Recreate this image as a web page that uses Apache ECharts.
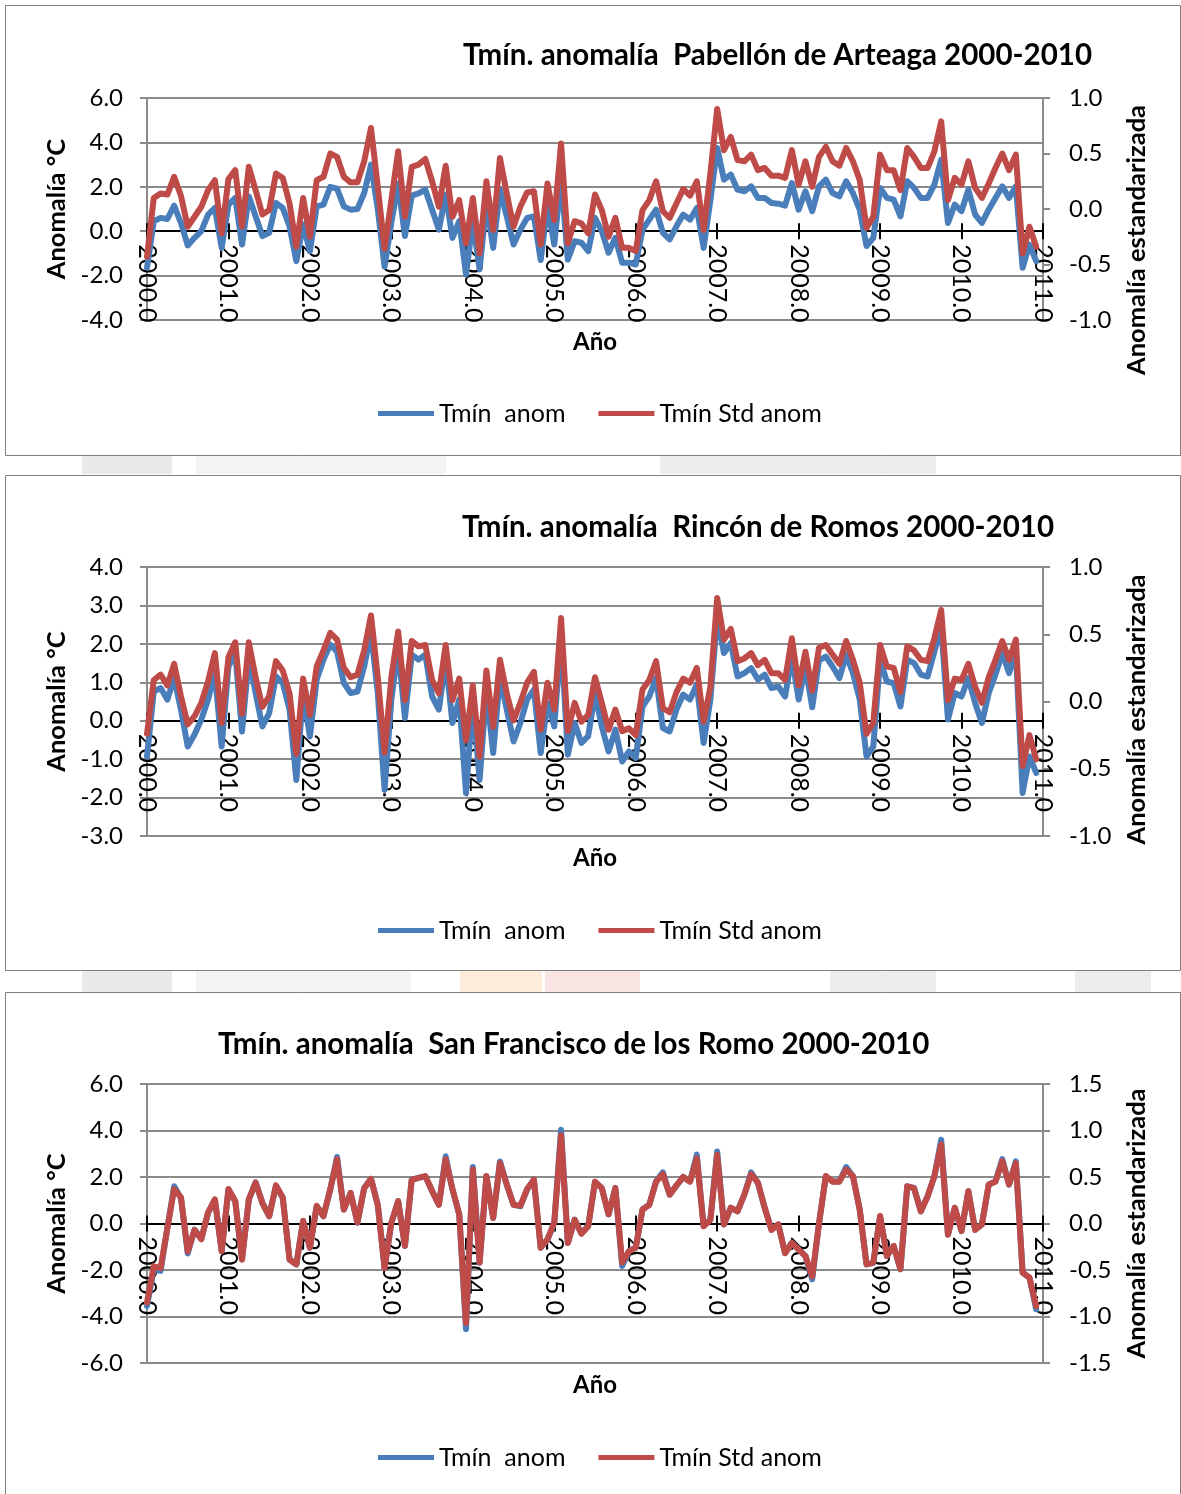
<!DOCTYPE html>
<html>
<head>
<meta charset="utf-8">
<script src="https://cdn.jsdelivr.net/npm/echarts@6/dist/echarts.min.js"></script>
<style>
  html, body { margin: 0; padding: 0; background: #fff; }
  #chart { width: 1181px; height: 1494px; }
</style>
</head>
<body>
<div id="chart"></div>
<script>
// Monthly minimum-temperature anomalies, Jan 2000 – Dec 2010 (132 months)
const YEAR_START = 2000;
const YEAR_END = 2011;
const SERIES_ANOM = 'Tmín  anom';
const SERIES_STD = 'Tmín Std anom';

const titles = [
  'Tmín. anomalía  Pabellón de Arteaga 2000-2010',
  'Tmín. anomalía  Rincón de Romos 2000-2010',
  'Tmín. anomalía  San Francisco de los Romo 2000-2010'
];

// Pabellón de Arteaga
const paAnom = [
  -1.65, 0.45, 0.6, 0.55, 1.15, 0.37, -0.64, -0.3, 0.0, 0.75, 1.05, -0.75,
  1.2, 1.5, -0.6, 1.57, 0.67, -0.22, -0.07, 1.27, 1.05, 0.22, -1.35, 0.3,
  -0.9, 1.12, 1.2, 2.0, 1.92, 1.12, 0.97, 1.0, 1.72, 3.0, 1.0, -1.6,
  0.4, 2.15, -0.22, 1.6, 1.7, 1.87, 0.97, 0.07, 1.65, -0.3, 0.45, -1.95,
  0.45, -1.72, 1.27, -0.75, 1.87, 0.67, -0.6, 0.07, 0.6, 0.67, -1.3, 1.12,
  -0.6, 2.4, -1.27, -0.45, -0.52, -0.9, 0.6, 0.0, -0.97, -0.3, -1.42, -1.42,
  -1.5, 0.07, 0.52, 0.97, -0.07, -0.37, 0.22, 0.75, 0.52, 1.05, -0.75, 1.4,
  3.75, 2.32, 2.55, 1.87, 1.8, 2.02, 1.5, 1.5, 1.27, 1.24, 1.15, 2.17,
  0.97, 1.8, 0.9, 2.02, 2.32, 1.72, 1.57, 2.25, 1.72, 0.97, -0.67, -0.3,
  1.95, 1.5, 1.42, 0.67, 2.25, 1.95, 1.5, 1.5, 2.1, 3.22, 0.37, 1.2,
  0.9, 1.87, 0.75, 0.37, 0.97, 1.5, 2.02, 1.5, 2.02, -1.65, -0.6, -1.35
];
const paStd = [
  -0.43, 0.1, 0.14, 0.13, 0.29, 0.12, -0.16, -0.07, 0.02, 0.17, 0.26, -0.22,
  0.27, 0.35, -0.16, 0.38, 0.17, -0.05, -0.01, 0.32, 0.28, 0.05, -0.34, 0.1,
  -0.25, 0.26, 0.29, 0.5, 0.47, 0.29, 0.24, 0.24, 0.43, 0.73, 0.2, -0.36,
  0.08, 0.52, -0.07, 0.38, 0.4, 0.45, 0.25, 0.02, 0.39, -0.07, 0.08, -0.31,
  0.1, -0.4, 0.25, -0.19, 0.46, 0.14, -0.16, 0.02, 0.15, 0.16, -0.32, 0.23,
  -0.1, 0.59, -0.31, -0.11, -0.13, -0.22, 0.13, -0.01, -0.25, -0.08, -0.35, -0.35,
  -0.38, -0.01, 0.08, 0.25, -0.02, -0.08, 0.05, 0.18, 0.12, 0.25, -0.19, 0.32,
  0.9, 0.53, 0.65, 0.44, 0.43, 0.49, 0.35, 0.37, 0.3, 0.3, 0.28, 0.53,
  0.22, 0.43, 0.2, 0.47, 0.56, 0.43, 0.39, 0.55, 0.43, 0.26, -0.17, -0.07,
  0.49, 0.35, 0.35, 0.17, 0.55, 0.47, 0.37, 0.37, 0.52, 0.79, 0.08, 0.28,
  0.22, 0.43, 0.19, 0.1, 0.23, 0.37, 0.5, 0.35, 0.49, -0.4, -0.16, -0.34
];

// Rincón de Romos
const rrAnom = [
  -0.93, 0.76, 0.85, 0.55, 1.11, 0.29, -0.67, -0.36, 0.03, 0.55, 1.24, -0.67,
  1.41, 1.76, -0.28, 1.63, 0.72, -0.15, 0.2, 1.15, 0.98, 0.29, -1.54, 0.72,
  -0.41, 1.07, 1.59, 1.98, 1.8, 0.98, 0.72, 0.76, 1.41, 2.3, 0.72, -1.8,
  0.55, 1.89, 0.07, 1.72, 1.59, 1.72, 0.63, 0.29, 1.59, -0.06, 0.55, -1.88,
  0.55, -1.54, 0.81, -0.84, 1.15, 0.29, -0.54, -0.06, 0.55, 0.81, -0.84, 0.46,
  -0.15, 2.19, -0.88, -0.06, -0.58, -0.4, 0.7, -0.15, -0.8, -0.23, -1.06, -0.8,
  -0.97, 0.37, 0.63, 1.11, -0.19, -0.28, 0.29, 0.68, 0.55, 0.94, -0.58, 0.55,
  2.71, 1.76, 2.02, 1.15, 1.24, 1.37, 1.07, 1.2, 0.85, 0.89, 0.63, 1.67,
  0.55, 1.41, 0.35, 1.57, 1.67, 1.41, 1.11, 1.72, 1.24, 0.55, -0.93, -0.67,
  1.59, 1.02, 0.98, 0.37, 1.59, 1.5, 1.2, 1.15, 1.8, 2.45, 0.03, 0.72,
  0.63, 1.11, 0.46, -0.06, 0.72, 1.2, 1.76, 1.24, 1.8, -1.88, -0.93, -1.36
];
const rrStd = [
  -0.24, 0.16, 0.2, 0.12, 0.28, 0.04, -0.17, -0.11, -0.01, 0.15, 0.36, -0.16,
  0.33, 0.44, -0.09, 0.44, 0.18, -0.04, 0.04, 0.3, 0.23, 0.06, -0.39, 0.17,
  -0.1, 0.26, 0.38, 0.51, 0.46, 0.25, 0.18, 0.2, 0.38, 0.64, 0.18, -0.38,
  0.18, 0.52, 0.01, 0.45, 0.41, 0.42, 0.16, 0.06, 0.42, 0.01, 0.17, -0.29,
  0.12, -0.41, 0.23, -0.19, 0.31, 0.06, -0.14, -0.01, 0.14, 0.22, -0.21, 0.14,
  -0.06, 0.62, -0.22, -0.01, -0.15, -0.1, 0.18, -0.01, -0.21, -0.06, -0.22, -0.2,
  -0.25, 0.09, 0.16, 0.3, -0.05, -0.08, 0.07, 0.17, 0.14, 0.25, -0.15, 0.11,
  0.77, 0.46, 0.54, 0.3, 0.32, 0.36, 0.27, 0.31, 0.21, 0.21, 0.16, 0.47,
  0.12, 0.37, 0.08, 0.4, 0.42, 0.35, 0.28, 0.45, 0.31, 0.14, -0.24, -0.16,
  0.42, 0.26, 0.25, 0.07, 0.41, 0.38, 0.31, 0.3, 0.47, 0.68, 0.01, 0.17,
  0.16, 0.28, 0.11, -0.01, 0.18, 0.31, 0.45, 0.31, 0.46, -0.48, -0.25, -0.43
];

// San Francisco de los Romo
const sfAnom = [
  -3.55, -1.97, -2.04, -0.2, 1.6, 1.1, -1.29, -0.26, -0.66, 0.46, 1.03, -1.19,
  1.46, 0.96, -1.54, 1.03, 1.77, 0.89, 0.31, 1.63, 1.1, -1.54, -1.76, 0.1,
  -1.04, 0.74, 0.31, 1.46, 2.86, 0.6, 1.31, 0.03, 1.53, 1.92, 0.81, -1.9,
  0.03, 0.96, -0.97, 1.89, 1.96, 2.03, 1.39, 0.81, 2.89, 1.46, 0.39, -4.54,
  2.43, -1.69, 2.03, 0.24, 2.67, 1.67, 0.81, 0.74, 1.46, 1.89, -1.04, -0.69,
  0.03, 4.03, -0.83, 0.17, -0.43, -0.1, 1.78, 1.53, 0.39, 1.53, -1.83, -1.19,
  -1.04, 0.6, 0.81, 1.81, 2.2, 1.24, 1.63, 2.0, 1.81, 2.96, -0.11, 0.17,
  3.1, -0.04, 0.67, 0.53, 1.24, 2.2, 1.74, 0.67, -0.26, -0.04, -1.26, -0.83,
  -1.11, -1.4, -2.4, 0.0, 2.03, 1.81, 1.81, 2.43, 2.03, 0.6, -1.76, -1.69,
  0.31, -1.4, -0.97, -1.97, 1.6, 1.53, 0.53, 1.17, 2.03, 3.6, -0.47, 0.67,
  -0.33, 1.39, -0.26, -0.04, 1.67, 1.81, 2.77, 1.67, 2.67, -2.11, -2.33, -3.69
];
const sfStd = [
  -0.85, -0.46, -0.48, -0.05, 0.37, 0.28, -0.3, -0.07, -0.17, 0.12, 0.26, -0.3,
  0.37, 0.24, -0.39, 0.26, 0.44, 0.22, 0.08, 0.41, 0.28, -0.39, -0.44, 0.03,
  -0.26, 0.19, 0.08, 0.37, 0.69, 0.15, 0.33, 0.01, 0.38, 0.48, 0.2, -0.48,
  0.01, 0.24, -0.24, 0.47, 0.49, 0.51, 0.35, 0.2, 0.69, 0.37, 0.1, -1.07,
  0.58, -0.42, 0.51, 0.06, 0.65, 0.42, 0.2, 0.19, 0.37, 0.47, -0.26, -0.17,
  0.01, 0.95, -0.21, 0.04, -0.11, -0.03, 0.45, 0.38, 0.1, 0.38, -0.42, -0.3,
  -0.26, 0.15, 0.2, 0.45, 0.53, 0.31, 0.41, 0.5, 0.45, 0.7, -0.03, 0.04,
  0.74, -0.01, 0.17, 0.13, 0.31, 0.53, 0.44, 0.17, -0.07, -0.01, -0.32, -0.21,
  -0.28, -0.35, -0.57, 0.0, 0.51, 0.45, 0.45, 0.58, 0.51, 0.15, -0.44, -0.42,
  0.08, -0.35, -0.24, -0.49, 0.4, 0.38, 0.13, 0.29, 0.51, 0.85, -0.12, 0.17,
  -0.08, 0.35, -0.07, -0.01, 0.42, 0.45, 0.67, 0.42, 0.65, -0.53, -0.58, -0.89
];

// Axis ranges for each panel: [min, max, interval] for the °C axis and the standardised axis
const leftAxes = [[-4, 6, 2], [-3, 4, 1], [-6, 6, 2]];
const rightAxes = [[-1, 1, 0.5], [-1, 1, 0.5], [-1.5, 1.5, 0.5]];
const anomSets = [paAnom, rrAnom, sfAnom];
const stdSets = [paStd, rrStd, sfStd];

const FONT = 'Lato';
const GRID_COLOR = '#8a8a8a';
const BLUE = '#4A7EBB';
const RED = '#BE4B48';
const LINE_W = 6;

// layout of the three panels
const panels = [
  { top: 98,  height: 222, titleTop: 40,   titleRight: 89,  titleLeft: null, legendTop: 396,  nameGapX: 99,  rightShift: 62 },
  { top: 567, height: 269, titleTop: 512,  titleRight: 127, titleLeft: null, legendTop: 913,  nameGapX: 126, rightShift: 16 },
  { top: 1084, height: 279, titleTop: 1029, titleRight: null, titleLeft: 218, legendTop: 1440, nameGapX: 150, rightShift: 0 }
];

const toPoints = arr => arr.map((v, i) => [YEAR_START + i / 12, v]);

const option = {
  backgroundColor: '#fff',
  animation: false,
  textStyle: { fontFamily: FONT },
  title: [], grid: [], xAxis: [], yAxis: [], series: [], legend: [],
  graphic: []
};

panels.forEach((p, k) => {
  const t = { text: titles[k], top: p.titleTop, padding: 0,
    textStyle: { fontFamily: FONT, fontWeight: 'bold', fontSize: 29.5, color: '#000' } };
  if (p.titleRight != null) t.right = p.titleRight; else t.left = p.titleLeft;
  option.title.push(t);

  option.grid.push({ left: 147, width: 896, top: p.top, height: p.height, containLabel: false });

  const [lmin, lmax, lint] = leftAxes[k];
  const [rmin, rmax, rint] = rightAxes[k];
  // the year axis crosses the °C axis at zero: lift it from the grid bottom to that level
  const zeroLift = -p.height * (0 - lmin) / (lmax - lmin);

  const lab = { fontFamily: FONT, fontSize: 24, color: '#000' };
  // main x axis: labels, outward ticks, black zero line
  option.xAxis.push({
    type: 'value', gridIndex: k, position: 'bottom', offset: zeroLift,
    min: YEAR_START, max: YEAR_END, interval: 1,
    name: 'Año', nameLocation: 'middle', nameGap: p.nameGapX,
    nameTextStyle: { fontFamily: FONT, fontWeight: 'bold', fontSize: 24, color: '#000' },
    axisLine: { onZero: false, lineStyle: { color: '#000', width: 2 } },
    axisTick: { show: true, length: 8, lineStyle: { color: '#000', width: 2 } },
    axisLabel: { rotate: -90, margin: 13, fontFamily: FONT, fontSize: 25, color: '#000',
      formatter: v => v.toFixed(1) },
    splitLine: { show: false }
  });
  // companion x axis carrying the inward half of the cross ticks
  option.xAxis.push({
    type: 'value', gridIndex: k, position: 'bottom', offset: zeroLift,
    min: YEAR_START, max: YEAR_END, interval: 1,
    axisLine: { show: false, onZero: false },
    axisTick: { show: true, inside: true, length: 8, lineStyle: { color: '#000', width: 2 } },
    axisLabel: { show: false }, splitLine: { show: false }
  });

  option.yAxis.push({
    type: 'value', gridIndex: k, position: 'left',
    min: lmin, max: lmax, interval: lint,
    name: 'Anomalía °C', nameLocation: 'middle', nameGap: 77, nameRotate: 90,
    nameTextStyle: { fontFamily: FONT, fontWeight: 'bold', fontSize: 25.5, color: '#000' },
    axisLine: { show: true, lineStyle: { color: GRID_COLOR, width: 2 } },
    axisTick: { show: true, length: 7, lineStyle: { color: GRID_COLOR, width: 2 } },
    axisLabel: { margin: 24, ...lab, formatter: v => v.toFixed(1) },
    splitLine: { show: true, lineStyle: { color: GRID_COLOR, width: 2 } }
  });
  option.yAxis.push({
    type: 'value', gridIndex: k, position: 'right',
    min: rmin, max: rmax, interval: rint,
    name: 'Anomalía estandarizada', nameLocation: 'middle', nameGap: 81, nameRotate: 90,
    nameTextStyle: { fontFamily: FONT, fontWeight: 'bold', fontSize: 25.5, color: '#000',
      padding: [0, p.rightShift, 0, 0] },
    axisLine: { show: true, lineStyle: { color: GRID_COLOR, width: 2 } },
    axisTick: { show: true, length: 7, lineStyle: { color: GRID_COLOR, width: 2 } },
    axisLabel: { margin: 26, ...lab, formatter: v => v.toFixed(1) },
    splitLine: { show: false }
  });

  option.series.push({
    name: SERIES_ANOM, type: 'line', xAxisIndex: 2 * k, yAxisIndex: 2 * k,
    data: toPoints(anomSets[k]), symbol: 'none', showSymbol: false,
    lineStyle: { color: BLUE, width: LINE_W, join: 'round', cap: 'round' }, itemStyle: { color: BLUE }
  });
  option.series.push({
    name: SERIES_STD, type: 'line', xAxisIndex: 2 * k, yAxisIndex: 2 * k + 1,
    data: toPoints(stdSets[k]), symbol: 'none', showSymbol: false,
    lineStyle: { color: RED, width: LINE_W, join: 'round', cap: 'round' }, itemStyle: { color: RED }
  });

  option.legend.push({
    data: [SERIES_ANOM, SERIES_STD], left: 373, top: p.legendTop,
    icon: 'rect', itemWidth: 56, itemHeight: 5, itemGap: 33, selectedMode: false,
    textStyle: { fontFamily: FONT, fontSize: 25, color: '#000' }
  });
});

// faint fragments of the page background showing between the panels
const bgPatches = [
  [82, 456, 90, 18, '#e9e9e9'], [196, 456, 250, 18, '#f3f3f3'], [660, 456, 276, 18, '#ececec'],
  [82, 971, 90, 21, '#e9e9e9'], [196, 971, 215, 21, '#f3f3f3'], [460, 971, 82, 21, '#fcecd9'],
  [545, 971, 95, 21, '#f9e4e4'], [830, 971, 106, 21, '#ececec'], [1075, 971, 76, 21, '#ececec']
];
bgPatches.forEach(b => {
  option.graphic.push({
    type: 'rect', z: -2, silent: true,
    shape: { x: b[0], y: b[1], width: b[2], height: b[3] },
    style: { fill: b[4] }
  });
});

// frames around the three panels
[[5.5, 5.5, 1175, 450], [5.5, 475.5, 1175, 495], [5.5, 992.5, 1175, 520]].forEach(r => {
  option.graphic.push({
    type: 'rect', z: -1, silent: true,
    shape: { x: r[0], y: r[1], width: r[2], height: r[3] },
    style: { fill: null, stroke: '#808080', lineWidth: 1 }
  });
});

const chart = echarts.init(document.getElementById('chart'), null, { renderer: 'canvas' });
chart.setOption(option);
</script>
</body>
</html>
